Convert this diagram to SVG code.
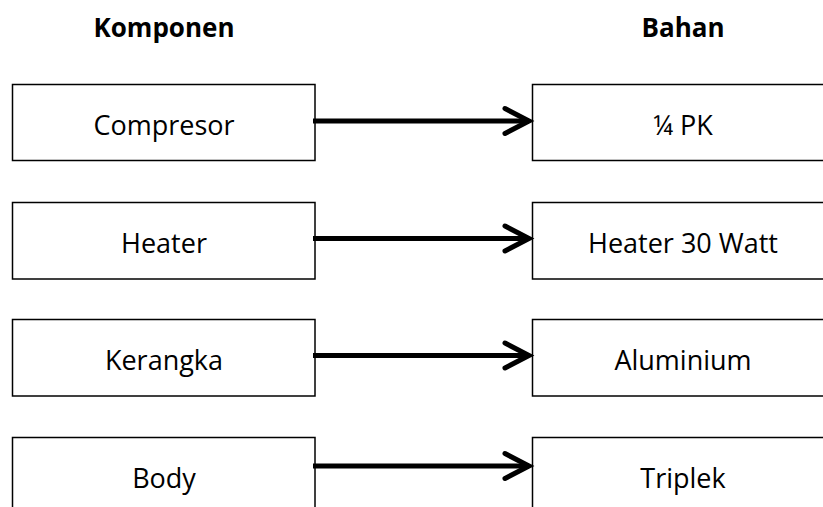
<svg xmlns="http://www.w3.org/2000/svg" width="823" height="507" viewBox="0 0 823 507">
<style>
.box{fill:#fff;stroke:#000;stroke-width:1.5}
.t{font-family:"Open Sans","Liberation Sans",sans-serif;font-size:27px;fill:#000;text-anchor:middle}
.h{font-family:"Open Sans","Liberation Sans",sans-serif;font-size:26px;font-weight:bold;fill:#000;text-anchor:middle}
.arr{stroke:#000;stroke-width:5;fill:none;marker-end:url(#ah)}
</style>
<defs>
<marker id="ah" markerUnits="userSpaceOnUse" markerWidth="40" markerHeight="40" refX="0" refY="0" orient="auto" overflow="visible">
<path d="M -22 -12.5 L 2 0 L -22 12.5" fill="none" stroke="#000" stroke-width="5" stroke-linecap="round" stroke-linejoin="miter"/>
</marker>
</defs>
<g id="headers">
<text class="h" x="164" y="37">Komponen</text>
<text class="h" x="683" y="37">Bahan</text>
</g>
<g id="n-compresor"><rect class="box" x="12.5" y="84.5" width="302.5" height="76"/><text class="t" x="164" y="135">Compresor</text></g>
<g id="n-heater"><rect class="box" x="12.5" y="202.5" width="302.5" height="76.5"/><text class="t" x="164" y="253">Heater</text></g>
<g id="n-kerangka"><rect class="box" x="12.5" y="319.5" width="302.5" height="76.5"/><text class="t" x="164" y="370">Kerangka</text></g>
<g id="n-body"><rect class="box" x="12.5" y="437.5" width="302.5" height="80"/><text class="t" x="164" y="488">Body</text></g>
<g id="n-pk"><rect class="box" x="532.5" y="84.5" width="310" height="76"/><text class="t" x="683" y="135">¼ PK</text></g>
<g id="n-heater30"><rect class="box" x="532.5" y="202.5" width="310" height="76.5"/><text class="t" x="683" y="253">Heater 30 Watt</text></g>
<g id="n-aluminium"><rect class="box" x="532.5" y="319.5" width="310" height="76.5"/><text class="t" x="683" y="370">Aluminium</text></g>
<g id="n-triplek"><rect class="box" x="532.5" y="437.5" width="310" height="80"/><text class="t" x="683" y="488">Triplek</text></g>
<g id="connectors">
<line class="arr" x1="313" y1="121" x2="527" y2="121"/>
<line class="arr" x1="313" y1="238.5" x2="527" y2="238.5"/>
<line class="arr" x1="313" y1="355.5" x2="527" y2="355.5"/>
<line class="arr" x1="313" y1="466" x2="527" y2="466"/>
</g>
</svg>
